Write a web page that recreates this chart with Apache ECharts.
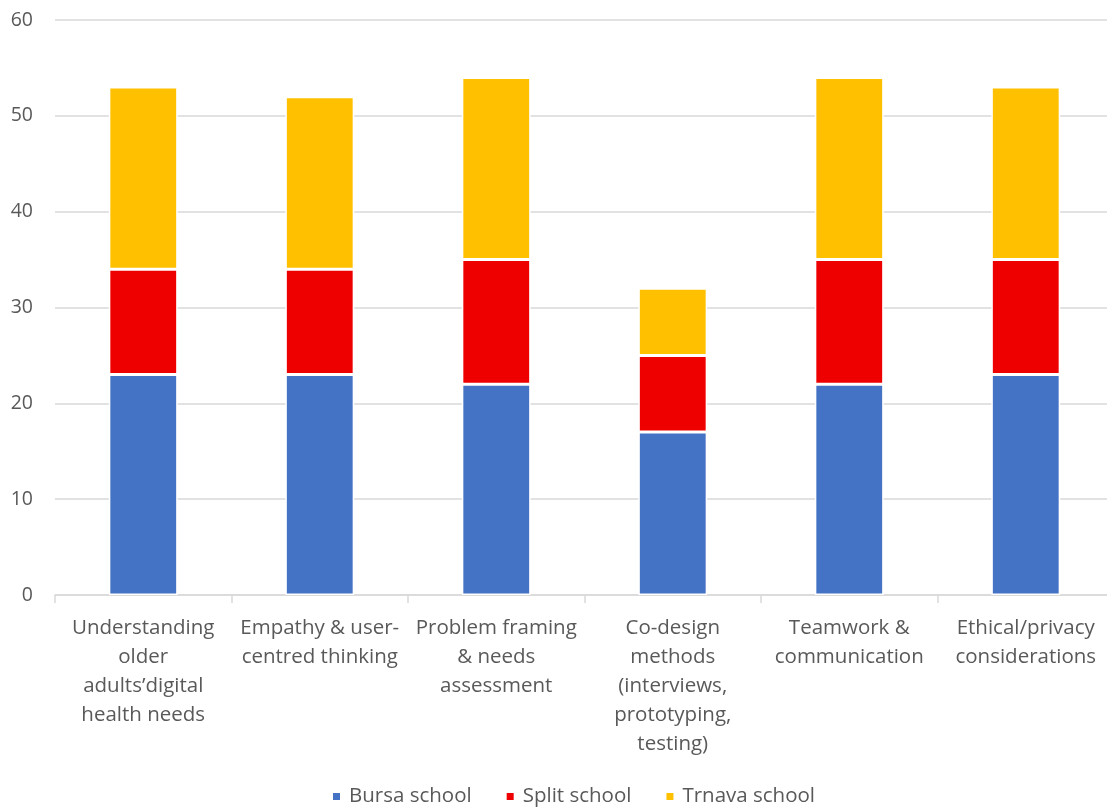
<!DOCTYPE html>
<html>
<head>
<meta charset="utf-8">
<script src="https://cdn.jsdelivr.net/npm/echarts@6/dist/echarts.min.js"></script>
<style>html,body{margin:0;padding:0;background:#fff;}#c{width:1107px;height:808px;}</style>
</head>
<body>
<div id="c"></div>
<script>
const categories = [
  "Understanding\nolder\nadults\u2019digital\nhealth needs",
  "Empathy & user-\ncentred thinking",
  "Problem framing\n& needs\nassessment",
  "Co-design\nmethods\n(interviews,\nprototyping,\ntesting)",
  "Teamwork &\ncommunication",
  "Ethical/privacy\nconsiderations"
];
const bursa = [23, 23, 22, 17, 22, 23];
const split = [11, 11, 13, 8, 13, 12];
const trnava = [19, 18, 19, 7, 19, 18];
const seriesNames = ["Bursa school", "Split school", "Trnava school"];
const colors = ["#4472C4", "#EE0000", "#FFC000"];

const font = "'Open Sans', 'Noto Sans', sans-serif";
const chart = echarts.init(document.getElementById('c'), null, {renderer: 'canvas'});
const mk = (name, data, color) => ({
  name, type: 'bar', stack: 'total', data, barWidth: '39%',
  itemStyle: {color, borderColor: '#fff', borderWidth: 1.5},
  emphasis: {disabled: true}
});
chart.setOption({
  animation: false,
  textStyle: {fontFamily: font},
  grid: {left: 55, width: 1059, top: 20, height: 575, containLabel: false, outerBoundsMode: 'none'},
  legend: {
    top: 786, left: 331, padding: 0, itemWidth: 9, itemHeight: 9, itemGap: 33, icon: 'rect',
    textStyle: {fontFamily: font, fontSize: 20.5, color: '#595959', padding: [0, 0, 0, 3]},
    data: seriesNames
  },
  xAxis: {
    type: 'category', data: categories,
    axisLine: {lineStyle: {color: '#d9d9d9', width: 1.5}},
    axisTick: {show: true, length: 8, lineStyle: {color: '#d9d9d9', width: 1.5}},
    axisLabel: {interval: 0, fontFamily: font, fontSize: 20.5, color: '#595959', lineHeight: 29, margin: 19, align: 'center'}
  },
  yAxis: {
    type: 'value', min: 0, max: 60, interval: 10,
    axisLine: {show: false}, axisTick: {show: false},
    splitLine: {lineStyle: {color: '#d9d9d9', width: 1.5}},
    axisLabel: {fontFamily: font, fontSize: 19.5, color: '#595959', margin: 22}
  },
  series: [
    mk(seriesNames[0], bursa, colors[0]),
    mk(seriesNames[1], split, colors[1]),
    mk(seriesNames[2], trnava, colors[2])
  ]
});
</script>
</body>
</html>
